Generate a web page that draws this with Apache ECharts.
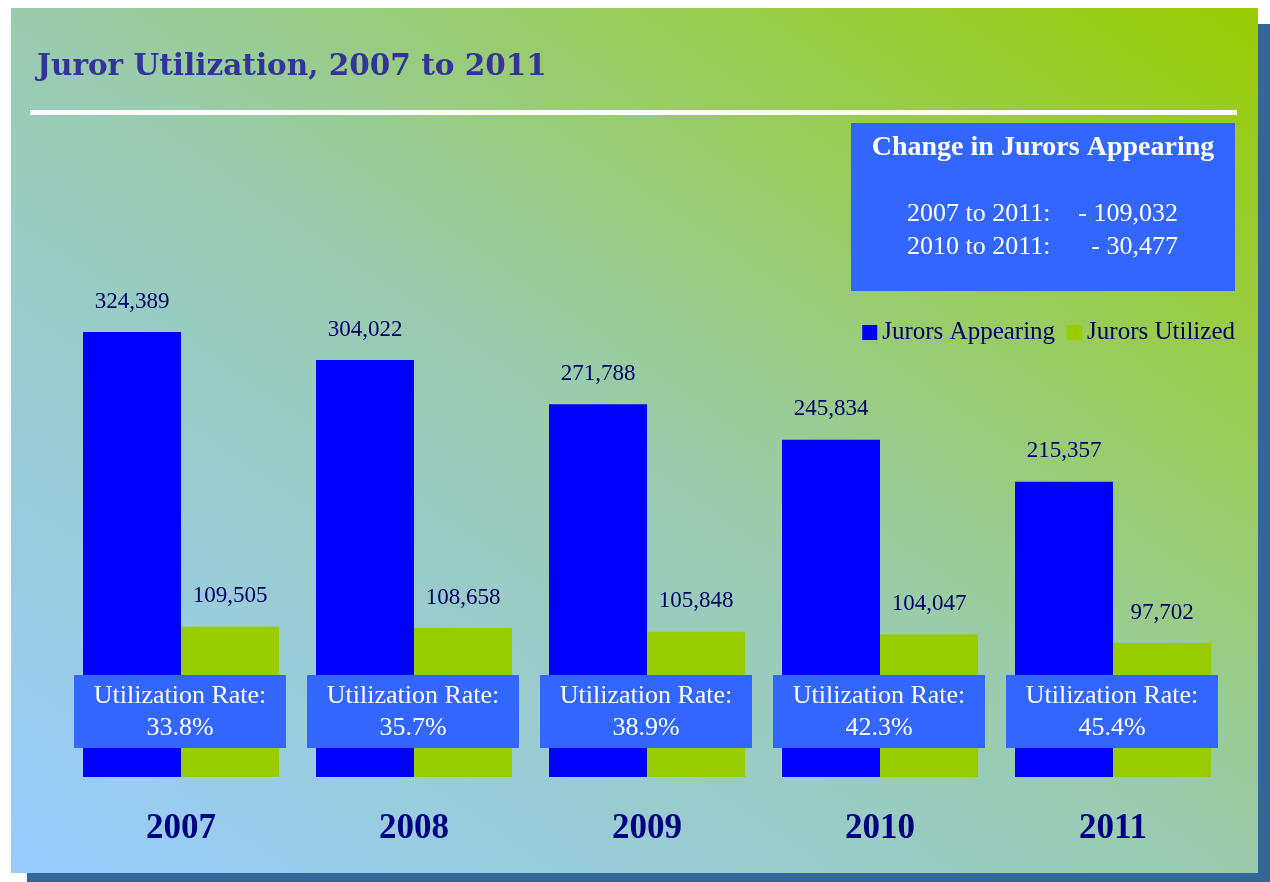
<!DOCTYPE html>
<html>
<head>
<meta charset="utf-8">
<style>
html,body{margin:0;padding:0;background:#ffffff;}
#chart{width:1270px;height:882px;}
</style>
<script src="https://cdn.jsdelivr.net/npm/echarts@6/dist/echarts.min.js"></script>
</head>
<body>
<div id="chart"></div>
<script>
var categories = ['2007', '2008', '2009', '2010', '2011'];
var jurorsAppearing = [324389, 304022, 271788, 245834, 215357];
var jurorsUtilized = [109505, 108658, 105848, 104047, 97702];
var utilizationRates = ['33.8%', '35.7%', '38.9%', '42.3%', '45.4%'];
var changeTitle = 'Change in Jurors Appearing';
var changeLabels = ['2007 to 2011:', '2010 to 2011:'];
var changeValues = ['- 109,032', '- 30,477'];

var SERIF = '"Liberation Serif", "Times New Roman", serif';
var chart = echarts.init(document.getElementById('chart'), null, {renderer: 'canvas'});

function fmt(v) { return v.toLocaleString('en-US'); }

var PW = 1247, PH = 865;
var option = {
  animation: false,
  backgroundColor: '#ffffff',
  graphic: [
    {type: 'rect', z: -10, shape: {x: 27, y: 24, width: 1250, height: 870}, style: {fill: '#336699'}},
    {type: 'rect', z: -9, x: 11, y: 8, scaleY: PH / PW,
      shape: {x: 0, y: 0, width: PW, height: PW},
      style: {fill: new echarts.graphic.LinearGradient(0, 1, 1, 0, [
        {offset: 0, color: '#99ccff'},
        {offset: 0.5, color: '#99ccae'},
        {offset: 1, color: '#99cc00'}
      ])}},
    {type: 'text', z: 5, x: 37, y: 67, style: {text: 'Juror Utilization, 2007 to 2011', fill: '#333399',
      font: 'bold 29.5px "DejaVu Serif", ' + SERIF, verticalAlign: 'middle', align: 'left'}},
    {type: 'rect', z: 5, shape: {x: 30, y: 110, width: 1207, height: 5}, style: {fill: '#ffffff'}},
    {type: 'rect', z: 5, shape: {x: 851, y: 123, width: 384, height: 168}, style: {fill: '#3366ff'}},
    {type: 'text', z: 6, x: 1043, y: 148, style: {text: changeTitle, fill: '#ffffff',
      font: 'bold 28px ' + SERIF, verticalAlign: 'middle', align: 'center'}},
    {type: 'text', z: 6, x: 907, y: 214, style: {text: changeLabels[0], fill: '#ffffff',
      font: '26px ' + SERIF, verticalAlign: 'middle', align: 'left'}},
    {type: 'text', z: 6, x: 1178, y: 214, style: {text: changeValues[0], fill: '#ffffff',
      font: '26px ' + SERIF, verticalAlign: 'middle', align: 'right'}},
    {type: 'text', z: 6, x: 907, y: 247, style: {text: changeLabels[1], fill: '#ffffff',
      font: '26px ' + SERIF, verticalAlign: 'middle', align: 'left'}},
    {type: 'text', z: 6, x: 1178, y: 247, style: {text: changeValues[1], fill: '#ffffff',
      font: '26px ' + SERIF, verticalAlign: 'middle', align: 'right'}}
  ],
  legend: {
    data: ['Jurors Appearing', 'Jurors Utilized'],
    right: 30, top: 315,
    itemWidth: 15, itemHeight: 15, itemGap: 12,
    icon: 'rect',
    textStyle: {fontFamily: SERIF, fontSize: 25, color: '#000066'}
  },
  grid: {left: 64.5, right: 40.5, top: 297, bottom: 105, containLabel: false},
  xAxis: {
    type: 'category', data: categories,
    axisLine: {show: false}, axisTick: {show: false}, splitLine: {show: false},
    axisLabel: {fontFamily: SERIF, fontSize: 35, fontWeight: 'bold', color: '#000080', margin: 34}
  },
  yAxis: {type: 'value', min: 0, max: 350000, show: false, splitLine: {show: false}},
  series: [
    {
      name: 'Jurors Appearing', type: 'bar', data: jurorsAppearing,
      barWidth: 98, barGap: '0%', itemStyle: {color: '#0000ff'},
      label: {show: true, position: 'top', distance: 19, formatter: function (p) { return fmt(p.value); },
        fontFamily: SERIF, fontSize: 23, color: '#000066'}
    },
    {
      name: 'Jurors Utilized', type: 'bar', data: jurorsUtilized,
      barWidth: 98, barGap: '0%', itemStyle: {color: '#99cc00'},
      label: {show: true, position: 'top', distance: 19, formatter: function (p) { return fmt(p.value); },
        fontFamily: SERIF, fontSize: 23, color: '#000066'}
    },
    {
      name: 'Utilization Rate', type: 'custom', z: 10,
      data: utilizationRates.map(function (r, i) { return [i, 0, r]; }),
      renderItem: function (params, api) {
        var pt = api.coord([api.value(0), 0]);
        var cx = pt[0] - 1, base = pt[1];
        var top = base - 102;
        return {
          type: 'group',
          children: [
            {type: 'rect', shape: {x: cx - 106, y: top, width: 212, height: 73}, style: {fill: '#3366ff'}},
            {type: 'text', x: cx, y: top + 21, style: {text: 'Utilization Rate:', fill: '#ffffff',
              font: '26px ' + SERIF, align: 'center', verticalAlign: 'middle'}},
            {type: 'text', x: cx, y: top + 53, style: {text: utilizationRates[params.dataIndex], fill: '#ffffff',
              font: '26px ' + SERIF, align: 'center', verticalAlign: 'middle'}}
          ]
        };
      }
    }
  ]
};
chart.setOption(option);
</script>
</body>
</html>
